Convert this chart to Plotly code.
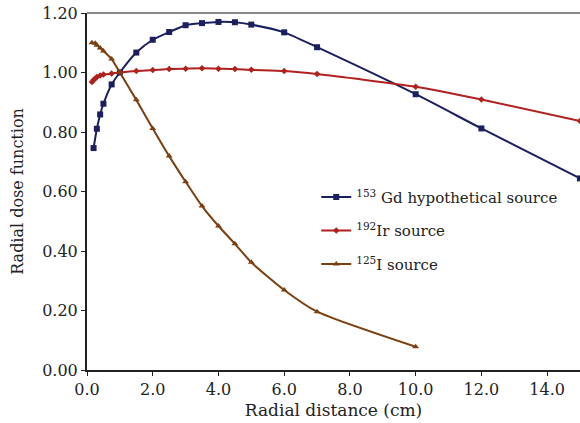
import plotly.graph_objs as go

# radial distance (cm) and radial dose function values
gd_r = [0.2, 0.3, 0.4, 0.5, 0.75, 1.0, 1.5, 2.0, 2.5, 3.0, 3.5, 4.0, 4.5, 5.0, 6.0, 7.0, 10.0, 12.0, 15.0]
gd_g = [0.746, 0.811, 0.859, 0.895, 0.960, 1.000, 1.067, 1.110, 1.136, 1.159, 1.166, 1.170, 1.169, 1.161,
        1.135, 1.085, 0.927, 0.812, 0.644]

ir_r = [0.15, 0.2, 0.25, 0.3, 0.4, 0.5, 0.75, 1.0, 1.5, 2.0, 2.5, 3.0, 3.5, 4.0, 4.5, 5.0, 6.0, 7.0, 10.0, 12.0, 15.0]
ir_g = [0.968, 0.975, 0.980, 0.985, 0.990, 0.993, 0.997, 1.000, 1.005, 1.008, 1.012, 1.013, 1.014, 1.013,
        1.012, 1.009, 1.005, 0.995, 0.952, 0.909, 0.837]

i_r = [0.15, 0.25, 0.3, 0.4, 0.5, 0.75, 1.0, 1.5, 2.0, 2.5, 3.0, 3.5, 4.0, 4.5, 5.0, 6.0, 7.0, 10.0]
i_g = [1.100, 1.098, 1.092, 1.082, 1.072, 1.045, 1.000, 0.908, 0.812, 0.719, 0.633, 0.551, 0.484, 0.424,
       0.362, 0.269, 0.196, 0.078]

x_ticks = [0, 2, 4, 6, 8, 10, 12, 14]
y_ticks = [0, 0.2, 0.4, 0.6, 0.8, 1.0, 1.2]

serif = "DejaVu Serif"

fig = go.Figure()
fig.add_trace(go.Scatter(x=gd_r, y=gd_g, mode='lines+markers', name='<sup>153</sup> Gd hypothetical source',
                         legendgroup='gd',
                         line=dict(color='#1b1f5e', width=2, shape='spline', smoothing=0.6),
                         marker=dict(symbol='square', size=6, color='#1b1f5e')))
fig.add_trace(go.Scatter(x=ir_r, y=ir_g, mode='lines+markers', name='<sup>192</sup>Ir source',
                         legendgroup='ir',
                         line=dict(color='#b0201e', width=2, shape='spline', smoothing=0.6),
                         marker=dict(symbol='diamond', size=5, color='#b0201e')))
fig.add_trace(go.Scatter(x=i_r, y=i_g, mode='lines+markers', name='<sup>125</sup>I source',
                         legendgroup='i',
                         line=dict(color='#7b3f10', width=2, shape='spline', smoothing=0.6),
                         marker=dict(symbol='triangle-up', size=6, color='#7b3f10')))

# grey top border
fig.add_shape(type='line', xref='paper', yref='paper', x0=0, x1=1, y0=1, y1=1,
              line=dict(color='#888888', width=2))

fig.update_layout(width=580, height=423, paper_bgcolor='white', plot_bgcolor='white',
                  margin=dict(l=87, r=0, t=13, b=53, autoexpand=False),
                  font=dict(family=serif, size=16, color='#222'),
                  legend=dict(x=0.465, y=0.53, xanchor='left', yanchor='top', bgcolor='rgba(0,0,0,0)',
                              font=dict(family=serif, size=15), tracegroupgap=11, itemwidth=30),
                  xaxis=dict(range=[0, 15], tickvals=x_ticks, ticktext=['%.1f' % v for v in x_ticks],
                             showline=True, linecolor='#222', linewidth=2, showgrid=False, zeroline=False,
                             ticks='outside', ticklen=4, tickcolor='#222', ticklabeloverflow='allow',
                             automargin=False,
                             title=dict(text='Radial distance (cm)', standoff=6,
                                        font=dict(family=serif, size=17))),
                  yaxis=dict(range=[0, 1.2], tickvals=y_ticks, ticktext=['%.2f' % v for v in y_ticks],
                             showline=True, linecolor='#222', linewidth=2, showgrid=False, zeroline=False,
                             ticks='outside', ticklen=4, tickcolor='#222', ticklabeloverflow='allow',
                             automargin=False,
                             title=dict(text='Radial dose function', standoff=15,
                                        font=dict(family=serif, size=16))))

# drop the default page margin so the figure sits at the window's corner
fig.write_html("out.html", config={'displayModeBar': False},
               post_script="document.body.style.margin='0';")
